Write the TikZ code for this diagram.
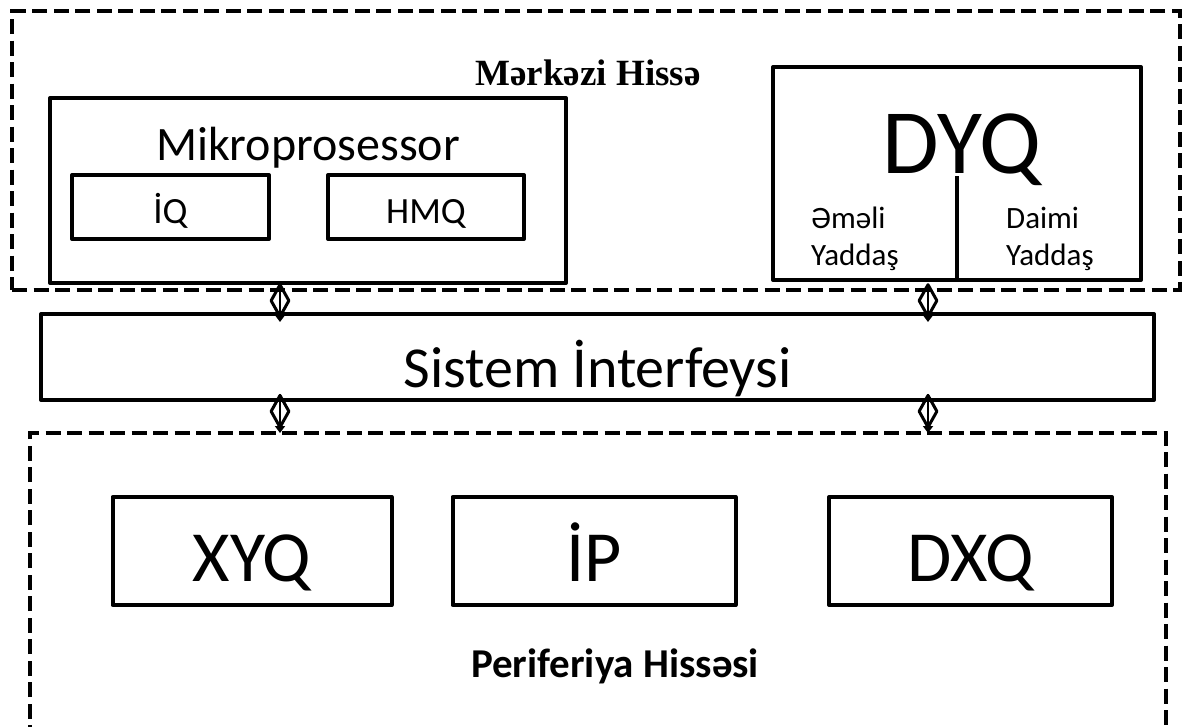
\documentclass[tikz,border=0pt]{standalone}
\usepackage{fontspec}
\setmainfont{Carlito}
\newfontfamily\titlefont{Liberation Serif}
\usetikzlibrary{arrows.meta,shapes.geometric}
\newcommand\fsz[1]{\fontsize{#1pt}{#1pt}\selectfont}
\begin{document}
\begin{tikzpicture}[x=1pt,y=-1pt,
  box/.style={draw, line width=4pt, rectangle, inner sep=0pt, line join=round},
  dbox/.style={draw, line width=4.5pt, rectangle, inner sep=0pt, dash pattern=on 15pt off 6.5pt},
  dline/.style={line width=4.5pt, dash pattern=on 15pt off 6.5pt},
  conn/.style={line width=2pt, -{Triangle[width=10pt,length=7pt]}},
  bidia/.style={diamond, draw, line width=3pt, line join=round, minimum width=19pt, minimum height=33pt, inner sep=0pt},
  lbl/.style={anchor=base, inner sep=0pt},
  lbll/.style={anchor=base west, inner sep=0pt}]
\useasboundingbox (0,0) rectangle (1185,726);

% central part (dashed)
\node[dbox, minimum width=1168pt, minimum height=279pt] (central) at (596,150.5) {};
\node[lbl, font=\titlefont\bfseries\fsz{37}] (centralt) at (588,85) {Mərkəzi Hissə};

% microprocessor
\node[box, minimum width=516pt, minimum height=185pt] (mp) at (308,190.5) {};
\node[lbl, font=\fsz{48}] (mpt) at (308,160) {Mikroprosessor};
\node[box, minimum width=197pt, minimum height=64pt] (iq) at (170.5,207) {};
\node[lbl, font=\fsz{37}] (iqt) at (170.5,223) {İQ};
\node[box, minimum width=196pt, minimum height=64pt] (hmq) at (426,207) {};
\node[lbl, font=\fsz{37}] (hmqt) at (426,223) {HMQ};

% memory
\node[box, minimum width=368pt, minimum height=213pt] (dyq) at (957,173.5) {};
\node[lbl, font=\fsz{92}] (dyqt) at (962,173) {DYQ};
\coordinate (divtop) at (957,176);
\draw[line width=4pt] (divtop) -- (divtop |- dyq.south);
\node[lbll, font=\fsz{31}] (ram1) at (811,228) {Əməli};
\node[lbll, font=\fsz{31}] (ram2) at (811,265) {Yaddaş};
\node[lbll, font=\fsz{31}] (rom1) at (1006,228) {Daimi};
\node[lbll, font=\fsz{31}] (rom2) at (1006,265) {Yaddaş};

% system interface
\node[box, minimum width=1113pt, minimum height=86pt] (sys) at (597.5,357) {};
\node[lbl, font=\fsz{58}] (syst) at (597.5,387) {Sistem İnterfeysi};

% peripheral part (dashed, open at the bottom)
\coordinate (perbl) at (30,740);
\coordinate (pertr) at (1166,433);
\draw[dline] (perbl) |- (pertr) -- (pertr |- perbl);
\node[box, minimum width=279pt, minimum height=108pt] (xyq) at (252,551) {};
\node[lbl, font=\fsz{72}] (xyqt) at (252,581) {XYQ};
\node[box, minimum width=283pt, minimum height=108pt] (ip) at (594,551) {};
\node[lbl, font=\fsz{72}] (ipt) at (594,581) {İP};
\node[box, minimum width=283pt, minimum height=108pt] (dxq) at (970.5,551) {};
\node[lbl, font=\fsz{72}] (dxqt) at (970.5,581) {DXQ};
\node[lbl, font=\bfseries\fsz{41}] (pert) at (615,677) {Periferiya Hissəsi};

% connectors
\coordinate (ax1) at (280,0);
\coordinate (ax2) at (928,0);
\draw[conn, shorten >=-10pt] (mp.south -| ax1) -- (sys.north -| ax1) node[bidia, pos=0.58] (d1) {};
\draw[conn, shorten <=3pt, shorten >=-10pt] (dyq.south -| ax2) -- (sys.north -| ax2) node[bidia, pos=0.62] (d2) {};
\draw[conn, shorten <=-8pt] (sys.south -| ax1) -- (pertr -| ax1) node[bidia, pos=0.30] (d3) {};
\draw[conn, shorten <=-8pt] (sys.south -| ax2) -- (pertr -| ax2) node[bidia, pos=0.30] (d4) {};
\end{tikzpicture}
\end{document}
